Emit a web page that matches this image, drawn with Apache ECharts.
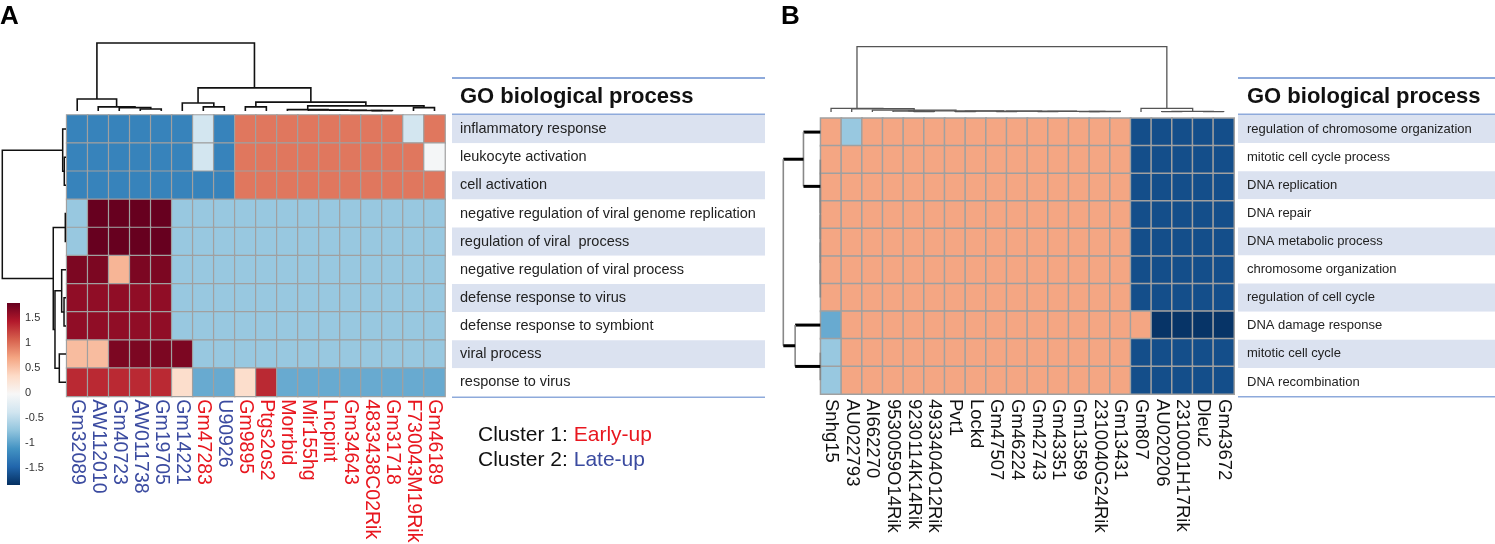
<!DOCTYPE html>
<html><head><meta charset="utf-8">
<script src="https://cdn.jsdelivr.net/npm/echarts@6/dist/echarts.min.js"></script>
<style>html,body{margin:0;padding:0;background:#fff}#c{width:1495px;height:544px}</style>
</head><body><div id="c"></div>
<script>
// ---------------- DATA ----------------
const genesA = ['Gm32089','AW112010','Gm40723','AW011738','Gm19705','Gm14221','Gm47283','U90926','Gm9895','Ptgs2os2','Morrbid','Mir155hg','Lncpint','Gm34643','4833438C02Rik','Gm31718','F730043M19Rik','Gm46189'];
const clusterA = [2,2,2,2,2,2,1,2,1,1,1,1,1,1,1,1,1,1];
const goTermsA = ['inflammatory response','leukocyte activation','cell activation','negative regulation of viral genome replication','regulation of viral  process','negative regulation of viral process','defense response to virus','defense response to symbiont','viral process','response to virus'];
const matrixA = [
  [-1.25,-1.25,-1.25,-1.25,-1.25,-1.25,-0.37,-1.25,0.95,0.95,0.95,0.95,0.95,0.95,0.95,0.95,-0.37,0.95],
  [-1.25,-1.25,-1.25,-1.25,-1.25,-1.25,-0.37,-1.25,0.95,0.95,0.95,0.95,0.95,0.95,0.95,0.95,0.95,-0.05],
  [-1.25,-1.25,-1.25,-1.25,-1.25,-1.25,-1.25,-1.25,0.95,0.95,0.95,0.95,0.95,0.95,0.95,0.95,0.95,0.95],
  [-0.72,1.8,1.8,1.8,1.8,-0.72,-0.72,-0.72,-0.72,-0.72,-0.72,-0.72,-0.72,-0.72,-0.72,-0.72,-0.72,-0.72],
  [-0.72,1.8,1.8,1.8,1.8,-0.72,-0.72,-0.72,-0.72,-0.72,-0.72,-0.72,-0.72,-0.72,-0.72,-0.72,-0.72,-0.72],
  [1.7,1.7,0.6,1.7,1.7,-0.72,-0.72,-0.72,-0.72,-0.72,-0.72,-0.72,-0.72,-0.72,-0.72,-0.72,-0.72,-0.72],
  [1.6,1.6,1.6,1.6,1.6,-0.72,-0.72,-0.72,-0.72,-0.72,-0.72,-0.72,-0.72,-0.72,-0.72,-0.72,-0.72,-0.72],
  [1.6,1.6,1.6,1.6,1.6,-0.72,-0.72,-0.72,-0.72,-0.72,-0.72,-0.72,-0.72,-0.72,-0.72,-0.72,-0.72,-0.72],
  [0.55,0.55,1.7,1.7,1.7,1.7,-0.72,-0.72,-0.72,-0.72,-0.72,-0.72,-0.72,-0.72,-0.72,-0.72,-0.72,-0.72],
  [1.35,1.35,1.35,1.35,1.35,0.3,-0.95,-0.95,0.3,1.35,-0.95,-0.95,-0.95,-0.95,-0.95,-0.95,-0.95,-0.95]
];
const genesB = ['Snhg15','AU022793','AI662270','9530059O14Rik','9230114K14Rik','4933404O12Rik','Pvt1','Lockd','Gm47507','Gm46224','Gm42743','Gm43351','Gm13589','2310040G24Rik','Gm13431','Gm807','AU020206','2310001H17Rik','Dleu2','Gm43672'];
const goTermsB = ['regulation of chromosome organization','mitotic cell cycle process','DNA replication','DNA repair','DNA metabolic process','chromosome organization','regulation of cell cycle','DNA damage response','mitotic cell cycle','DNA recombination'];
const matrixB = [
  [0.7,-0.72,0.7,0.7,0.7,0.7,0.7,0.7,0.7,0.7,0.7,0.7,0.7,0.7,0.7,-1.65,-1.65,-1.65,-1.65,-1.65],
  [0.7,0.7,0.7,0.7,0.7,0.7,0.7,0.7,0.7,0.7,0.7,0.7,0.7,0.7,0.7,-1.65,-1.65,-1.65,-1.65,-1.65],
  [0.7,0.7,0.7,0.7,0.7,0.7,0.7,0.7,0.7,0.7,0.7,0.7,0.7,0.7,0.7,-1.65,-1.65,-1.65,-1.65,-1.65],
  [0.7,0.7,0.7,0.7,0.7,0.7,0.7,0.7,0.7,0.7,0.7,0.7,0.7,0.7,0.7,-1.65,-1.65,-1.65,-1.65,-1.65],
  [0.7,0.7,0.7,0.7,0.7,0.7,0.7,0.7,0.7,0.7,0.7,0.7,0.7,0.7,0.7,-1.65,-1.65,-1.65,-1.65,-1.65],
  [0.7,0.7,0.7,0.7,0.7,0.7,0.7,0.7,0.7,0.7,0.7,0.7,0.7,0.7,0.7,-1.65,-1.65,-1.65,-1.65,-1.65],
  [0.7,0.7,0.7,0.7,0.7,0.7,0.7,0.7,0.7,0.7,0.7,0.7,0.7,0.7,0.7,-1.65,-1.65,-1.65,-1.65,-1.65],
  [-0.95,0.7,0.7,0.7,0.7,0.7,0.7,0.7,0.7,0.7,0.7,0.7,0.7,0.7,0.7,0.7,-1.82,-1.82,-1.82,-1.82],
  [-0.72,0.7,0.7,0.7,0.7,0.7,0.7,0.7,0.7,0.7,0.7,0.7,0.7,0.7,0.7,-1.65,-1.65,-1.65,-1.65,-1.65],
  [-0.72,0.7,0.7,0.7,0.7,0.7,0.7,0.7,0.7,0.7,0.7,0.7,0.7,0.7,0.7,-1.65,-1.65,-1.65,-1.65,-1.65]
];
const colorbarTicks = [1.5, 1, 0.5, 0, -0.5, -1, -1.5];
const colorMin = -1.85, colorMax = 1.8;
const palette = ['#053061','#2166ac','#4393c3','#92c5de','#d1e5f0','#f7f7f7','#fddbc7','#f4a582','#d6604d','#b2182b','#67001f'];
const clusterLegend = [['Cluster 1: ', 'Early-up', 'red'], ['Cluster 2: ', 'Late-up', 'blue']];
// dendrogram linkages: [child1, child2, height]  (leaves 0..n-1, merge k -> node n+k)
const colTreeA = [[3,4,0.03],[2,18,0.05],[1,19,0.06],[0,20,0.176],[6,7,0.06],[5,22,0.118],[8,9,0.06],[14,15,0.005],[13,25,0.008],[12,26,0.01],[11,27,0.015],[10,28,0.02],[16,17,0.05],[29,30,0.075],[24,31,0.13],[23,32,0.34],[21,33,1.0]];
const rowTreeA = [[1,2,0.027],[0,10,0.052],[3,4,0.011],[6,7,0.031],[5,13,0.068],[8,9,0.105],[14,15,0.173],[12,16,0.2],[11,17,1.0]];
const colTreeB = [[4,5,0.008],[3,20,0.012],[6,7,0.006],[8,9,0.006],[10,11,0.006],[12,13,0.006],[25,14,0.008],[24,26,0.01],[23,27,0.012],[22,28,0.014],[21,29,0.018],[2,30,0.03],[1,31,0.05],[0,32,0.057],[16,17,0.005],[18,19,0.005],[34,35,0.01],[15,36,0.057],[33,37,1.0]];
const rowTreeB = [[5,6,0],[4,10,0],[3,11,0],[2,12,0],[1,13,0],[0,14,0.455],[8,9,0],[7,16,0.68],[15,17,1.0]];

// ---------------- LAYOUT ----------------
const FONT = '"Liberation Sans", Arial, sans-serif';
const L = {
  hmA: {left: 66.7, top: 115, width: 378.3, height: 281.3},
  hmB: {left: 820.7, top: 118.3, width: 413.3, height: 275.7},
  dTopA: {left: 66.7, top: 43, width: 378.3, height: 68},
  dLeftA: {left: 2.3, top: 115, width: 63.7, height: 281.3},
  dTopB: {left: 820.7, top: 46.7, width: 413.3, height: 65.3},
  dLeftB: {left: 783.3, top: 118.3, width: 37, height: 275.7},
  tabA: {left: 452, top: 115, width: 313, height: 281.5},
  tabB: {left: 1238, top: 115, width: 257, height: 281},
  cbar: {left: 7, top: 303, width: 13, height: 182}
};
const BLUE_LABEL = '#3b4ba0', RED_LABEL = '#e8171f', RULE = '#8eaadb';

function treeSegments(n, merges) {
  const pos = [], ht = [];
  for (let i = 0; i < n; i++) { pos[i] = i; ht[i] = 0; }
  return merges.map((m, k) => {
    const [a, b, h] = m, id = n + k;
    pos[id] = (pos[a] + pos[b]) / 2; ht[id] = h;
    return [pos[a], ht[a], pos[b], ht[b], h];
  });
}
function heatData(mat) {
  const out = [];
  mat.forEach((row, r) => row.forEach((v, c) => out.push([c, r, v])));
  return out;
}
function dendroSeries(idx, segs, orient, st) {
  return {
    type: 'custom', xAxisIndex: idx, yAxisIndex: idx, silent: true, clip: false,
    data: segs,
    renderItem: (p, api) => {
      const pa = api.value(0), ha = api.value(1), pb = api.value(2), hb = api.value(3), h = api.value(4);
      const c = orient === 'top' ? (q, v) => api.coord([q, v]) : (q, v) => api.coord([v, q]);
      const a0 = c(pa, ha), a1 = c(pa, h), b1 = c(pb, h), b0 = c(pb, hb);
      if (st.split) {
        const ln = (p1, p2, s) => ({type: 'line', shape: {x1: p1[0], y1: p1[1], x2: p2[0], y2: p2[1]}, style: {stroke: s.color, lineWidth: s.width}});
        return {type: 'group', children: [ln(a0, a1, st.leg), ln(a1, b1, st.conn), ln(b1, b0, st.leg)]};
      }
      return {type: 'polyline', shape: {points: [a0, a1, b1, b0]}, style: {stroke: st.color, lineWidth: st.width, fill: null}};
    }
  };
}
const gridKeys = ['hmA','hmB','dTopA','dLeftA','dTopB','dLeftB','tabA','tabB','cbar'];
const grids = gridKeys.map(k => Object.assign({outerBoundsMode: 'none', containLabel: false}, L[k]));
const hidden = {show: false};
const xAxes = [
  {gridIndex: 0, type: 'category', data: genesA.map((g, i) => ({value: g, textStyle: {color: clusterA[i] === 1 ? RED_LABEL : BLUE_LABEL}})),
    axisLine: hidden, axisTick: hidden, splitLine: hidden, splitArea: hidden,
    axisLabel: {rotate: -90, interval: 0, fontSize: 19.5, margin: 3, fontFamily: FONT}},
  {gridIndex: 1, type: 'category', data: genesB,
    axisLine: hidden, axisTick: hidden, splitLine: hidden, splitArea: hidden,
    axisLabel: {rotate: -90, interval: 0, fontSize: 18.5, margin: 5, color: '#111', fontFamily: FONT}},
  {gridIndex: 2, type: 'value', min: -0.5, max: genesA.length - 0.5, show: false},
  {gridIndex: 3, type: 'value', min: 0, max: 1, inverse: true, show: false},
  {gridIndex: 4, type: 'value', min: -0.5, max: genesB.length - 0.5, show: false},
  {gridIndex: 5, type: 'value', min: 0, max: 1, inverse: true, show: false},
  {gridIndex: 6, type: 'value', min: 0, max: 1, show: false},
  {gridIndex: 7, type: 'value', min: 0, max: 1, show: false},
  {gridIndex: 8, type: 'value', min: 0, max: 1, show: false}
];
const tableAxis = (gi, terms, size, margin) => ({
  gridIndex: gi, type: 'category', data: terms, inverse: true, position: 'left',
  axisLine: hidden, axisTick: hidden, splitLine: hidden,
  splitArea: {show: true, interval: 0, areaStyle: {color: ['#dbe2f0', '#ffffff']}},
  axisLabel: {inside: true, margin: margin, fontSize: size, color: '#222', fontFamily: FONT, interval: 0}
});
const yAxes = [
  {gridIndex: 0, type: 'category', data: goTermsA, inverse: true, show: false},
  {gridIndex: 1, type: 'category', data: goTermsB, inverse: true, show: false},
  {gridIndex: 2, type: 'value', min: 0, max: 1, show: false},
  {gridIndex: 3, type: 'value', min: -0.5, max: goTermsA.length - 0.5, inverse: true, show: false},
  {gridIndex: 4, type: 'value', min: 0, max: 1, show: false},
  {gridIndex: 5, type: 'value', min: -0.5, max: goTermsB.length - 0.5, inverse: true, show: false},
  tableAxis(6, goTermsA, 14.5, 8),
  tableAxis(7, goTermsB, 13, 9),
  {gridIndex: 8, type: 'value', min: colorMin, max: colorMax, position: 'right',
    axisLine: hidden, axisTick: hidden, splitLine: hidden,
    axisLabel: {customValues: colorbarTicks, margin: 5, fontSize: 11, color: '#333', fontFamily: FONT}}
];
const heatStyle = (bw) => ({borderColor: '#a0a0a0', borderWidth: bw});
const series = [
  {type: 'heatmap', xAxisIndex: 0, yAxisIndex: 0, data: heatData(matrixA), itemStyle: heatStyle(1.2), emphasis: {disabled: true}, silent: true},
  {type: 'heatmap', xAxisIndex: 1, yAxisIndex: 1, data: heatData(matrixB), itemStyle: heatStyle(1.5), emphasis: {disabled: true}, silent: true},
  dendroSeries(2, treeSegments(genesA.length, colTreeA), 'top', {color: '#111', width: 1.6}),
  dendroSeries(3, treeSegments(goTermsA.length, rowTreeA), 'left', {color: '#111', width: 1.5}),
  dendroSeries(4, treeSegments(genesB.length, colTreeB), 'top', {color: '#555', width: 1.3}),
  dendroSeries(5, treeSegments(goTermsB.length, rowTreeB), 'left', {split: true, leg: {color: '#000', width: 3}, conn: {color: '#888', width: 1.6}}),
  {type: 'custom', xAxisIndex: 8, yAxisIndex: 8, silent: true, data: [[0]],
    renderItem: (p, api) => {
      const tl = api.coord([0, colorMax]), br = api.coord([1, colorMin]);
      const stops = palette.slice().reverse().map((c, i) => ({offset: i / (palette.length - 1), color: c}));
      return {type: 'rect', shape: {x: tl[0], y: tl[1], width: br[0] - tl[0], height: br[1] - tl[1]},
        style: {fill: new echarts.graphic.LinearGradient(0, 0, 0, 1, stops)}};
    }}
];
const rule = (x1, x2, y) => ({type: 'line', shape: {x1, y1: y, x2, y2: y}, style: {stroke: RULE, lineWidth: 2}, silent: true});
const txt = (x, y, text, font, color, extra) => Object.assign({type: 'text', x, y, silent: true,
  style: Object.assign({text, font, fill: color, textVerticalAlign: 'middle'}, extra || {})});
const graphics = [
  txt(0, 17, 'A', 'bold 26px ' + FONT, '#000'),
  txt(781, 17, 'B', 'bold 26px ' + FONT, '#000'),
  rule(L.tabA.left, L.tabA.left + L.tabA.width, 78),
  rule(L.tabA.left, L.tabA.left + L.tabA.width, L.tabA.top - 0.5),
  rule(L.tabA.left, L.tabA.left + L.tabA.width, L.tabA.top + L.tabA.height + 0.5),
  txt(L.tabA.left + 8, 97, 'GO biological process', 'bold 22px ' + FONT, '#111'),
  rule(L.tabB.left, L.tabB.left + L.tabB.width, 78),
  rule(L.tabB.left, L.tabB.left + L.tabB.width, L.tabB.top - 0.5),
  rule(L.tabB.left, L.tabB.left + L.tabB.width, L.tabB.top + L.tabB.height + 0.5),
  txt(L.tabB.left + 9, 97, 'GO biological process', 'bold 22px ' + FONT, '#111')
];
clusterLegend.forEach((c, i) => {
  graphics.push({type: 'text', x: 478, y: 435 + i * 25, silent: true,
    style: {text: c[0] + '{' + c[2] + '|' + c[1] + '}', font: '21px ' + FONT, fill: '#111', textVerticalAlign: 'middle',
      rich: {red: {fill: RED_LABEL, font: '21px ' + FONT}, blue: {fill: BLUE_LABEL, font: '21px ' + FONT}}}});
});

const chart = echarts.init(document.getElementById('c'), null, {renderer: 'canvas'});
chart.setOption({
  animation: false,
  backgroundColor: '#fff',
  textStyle: {fontFamily: FONT},
  grid: grids, xAxis: xAxes, yAxis: yAxes,
  visualMap: {type: 'continuous', show: false, min: colorMin, max: colorMax, seriesIndex: [0, 1], inRange: {color: palette}},
  series: series,
  graphic: graphics
});
</script></body></html>
